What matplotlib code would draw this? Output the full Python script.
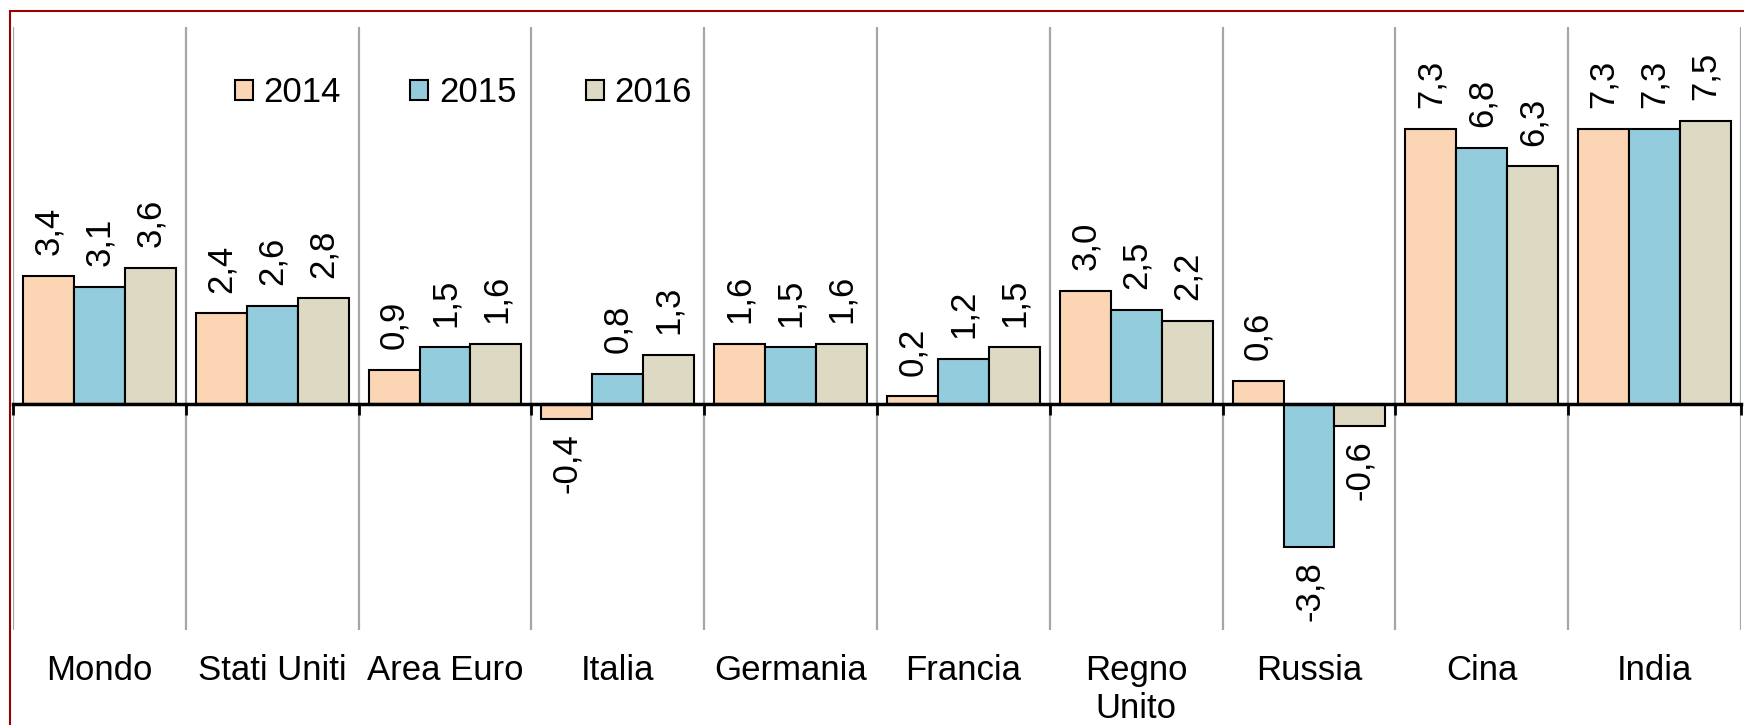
import matplotlib.pyplot as plt
from matplotlib.patches import Rectangle
from matplotlib.ticker import FixedLocator, NullLocator
import numpy as np

plt.rcParams['font.family'] = ['Liberation Sans', 'DejaVu Sans']
narrow = ['Liberation Sans Narrow', 'Liberation Sans', 'DejaVu Sans']

countries = ['Mondo', 'Stati Uniti', 'Area Euro', 'Italia', 'Germania',
             'Francia', 'Regno\nUnito', 'Russia', 'Cina', 'India']
years = ['2014', '2015', '2016']
g2014 = [3.4, 2.4, 0.9, -0.4, 1.6, 0.2, 3.0, 0.6, 7.3, 7.3]
g2015 = [3.1, 2.6, 1.5, 0.8, 1.5, 1.2, 2.5, -3.8, 6.8, 7.3]
g2016 = [3.6, 2.8, 1.6, 1.3, 1.6, 1.5, 2.2, -0.6, 6.3, 7.5]
colors = ['#FCD5B5', '#93CDDD', '#DDD9C3']

fig = plt.figure(figsize=(17.44, 7.25), dpi=100)
ax = fig.add_axes([13/1744, 1 - 630/725, 1728/1744, 603/725])

x = np.arange(len(countries))
w = 0.295
series = [g2014, g2015, g2016]
for i, (vals, yr, col) in enumerate(zip(series, years, colors)):
    pos = x + (i - 1) * w
    ax.bar(pos, vals, w, color=col, edgecolor='black', linewidth=1.5,
           label=yr, zorder=3)
    for px, v in zip(pos, vals):
        txt = f'{v:.1f}'.replace('.', ',')
        if v >= 0:
            ax.annotate(txt, (px, v), xytext=(0, 15), textcoords='offset points',
                        rotation=90, ha='center', va='bottom', fontsize=25,
                        family=narrow)
        else:
            ax.annotate(txt, (px, v), xytext=(0, -10), textcoords='offset points',
                        rotation=90, ha='center', va='top', fontsize=25,
                        family=narrow)

ax.set_xlim(-0.5, 9.5)
ax.set_ylim(-6, 10)

# zero axis with boundary ticks, grey separators between countries
for s in ['top', 'left', 'right']:
    ax.spines[s].set_visible(False)
ax.spines['bottom'].set_position(('data', 0))
ax.spines['bottom'].set_linewidth(2.5)
ax.spines['bottom'].set_zorder(4)
ax.xaxis.set_major_locator(NullLocator())
ax.xaxis.set_minor_locator(FixedLocator(np.arange(-0.5, 10, 1)))
ax.tick_params(axis='x', which='minor', direction='out', length=8, width=2,
               color='black', labelbottom=False)
ax.grid(which='minor', axis='x', color='#A6A6A6', linewidth=1.6, zorder=0)
ax.set_yticks([])

for xi, name in zip(x, countries):
    ax.text(xi, -0.04, name, transform=ax.get_xaxis_transform(),
            ha='center', va='top', fontsize=25, family=narrow)

ax.legend(loc='center left', bbox_to_anchor=((235 - 13) / 1728, (630 - 93) / 603),
          ncol=3, frameon=False, fontsize=25, borderpad=0, borderaxespad=0,
          handlelength=0.52, handleheight=0.52, handletextpad=0.3,
          columnspacing=2.0)

fig.add_artist(Rectangle((10/1744, -0.2), 1.2, 0.2 + 1 - 11/725,
                         transform=fig.transFigure, fill=False,
                         edgecolor='#9B0000', linewidth=1.5))

fig.savefig('out.png', dpi=100)
